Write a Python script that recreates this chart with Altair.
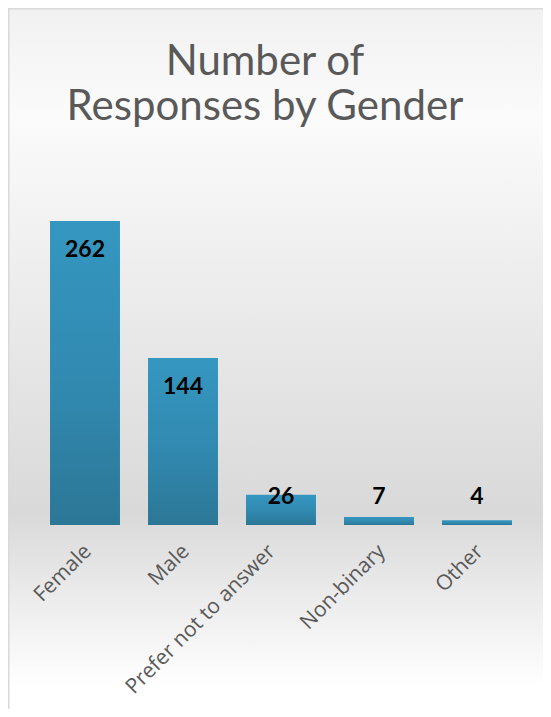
import altair as alt
import pandas as pd

categories = ["Female", "Male", "Prefer not to answer", "Non-binary", "Other"]
counts = [262, 144, 26, 7, 4]
title_lines = ["Number of", "Responses by Gender"]

df = pd.DataFrame({"gender": categories, "count": counts})

W, H = 490, 348
PAD_L, PAD_T = 28, 169
TOTAL_W, TOTAL_H = 535, 701
PAD_R = TOTAL_W - PAD_L - W
PAD_B = TOTAL_H - PAD_T - H

bg_gradient = alt.Gradient(
    gradient="linear", x1=0, y1=0, x2=0, y2=1,
    stops=[
        alt.GradientStop(offset=0, color="#f1f1f1"),
        alt.GradientStop(offset=0.15, color="#fbfbfb"),
        alt.GradientStop(offset=0.70, color="#d9d9d9"),
        alt.GradientStop(offset=0.94, color="#ffffff"),
        alt.GradientStop(offset=1, color="#ffffff"),
    ],
)

bar_gradient = alt.Gradient(
    gradient="linear", x1=0, y1=0, x2=0, y2=1,
    stops=[
        alt.GradientStop(offset=0, color="#3597c0"),
        alt.GradientStop(offset=0.55, color="#3189b0"),
        alt.GradientStop(offset=1, color="#2c7796"),
    ],
)

one = alt.Data(values=[{"k": 1}])

background = alt.Chart(one).mark_rect(
    fill=bg_gradient, stroke="#d9d9d9", strokeWidth=1.5
).encode(
    x=alt.value(-PAD_L + 0.75),
    x2=alt.value(TOTAL_W - PAD_L + 20),
    y=alt.value(-PAD_T + 0.75),
    y2=alt.value(TOTAL_H - PAD_T + 20),
)

title_x = 257 - PAD_L
title1 = alt.Chart(one).mark_text(
    text=title_lines[0], font="Lato", fontSize=42, color="#595959",
    align="center", baseline="alphabetic",
).encode(x=alt.value(title_x), y=alt.value(67 - PAD_T))
title2 = alt.Chart(one).mark_text(
    text=title_lines[1], font="Lato", fontSize=42, color="#595959",
    align="center", baseline="alphabetic",
).encode(x=alt.value(title_x), y=alt.value(112 - PAD_T))

base = alt.Chart(df)

x_enc = alt.X(
    "gender:N",
    sort=categories,
    title=None,
    scale=alt.Scale(paddingInner=0.286, paddingOuter=0.143),
    axis=alt.Axis(
        labelAngle=-45,
        labelAlign="right",
        labelBaseline="middle",
        labelPadding=23,
        labelOffset={
            "condition": {"test": "datum.value === 'Prefer not to answer'", "value": -9},
            "value": 3,
        },
        ticks=False,
        domain=False,
        labelFont="Open Sans",
        labelFontSize=21,
        labelColor="#595959",
        labelLimit=400,
        zindex=1,
    ),
)

y_enc = alt.Y("count:Q", scale=alt.Scale(domain=[0, 300]), axis=None)

bars = base.mark_bar(color=bar_gradient).encode(x=x_enc, y=y_enc)

labels = base.transform_calculate(
    lab="max(datum.count - 25, 24)"
).mark_text(
    font="Lato", fontWeight="bold", fontSize=23, color="#000000", baseline="middle"
).encode(
    x=alt.X("gender:N", sort=categories),
    y=alt.Y("lab:Q", scale=alt.Scale(domain=[0, 300])),
    text="count:Q",
)

chart = alt.layer(background, title1, title2, bars, labels).properties(
    width=W,
    height=H,
    autosize=alt.AutoSizeParams(type="none"),
    padding={"left": PAD_L, "top": PAD_T, "right": PAD_R, "bottom": PAD_B},
).configure_view(stroke=None)

chart.save("out.html", embed_options={"renderer": "svg", "actions": False})
